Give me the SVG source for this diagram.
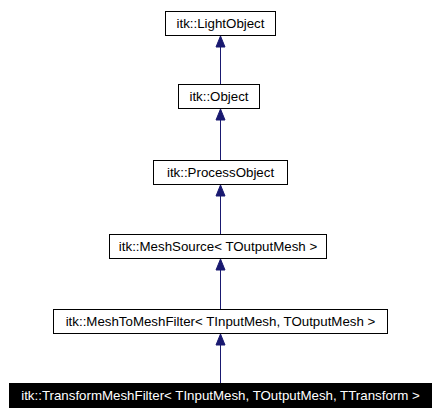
<svg xmlns="http://www.w3.org/2000/svg" width="439" height="415" viewBox="0 0 439 415">
<defs>
<style>
.box{fill:#fff;stroke:#000;stroke-width:1}
.cur{fill:#000;stroke:#000;stroke-width:1}
.lbl{font-family:"Liberation Sans",Arial,sans-serif;font-size:13.3px;text-anchor:middle;fill:#000}
.lblw{font-family:"Liberation Sans",Arial,sans-serif;font-size:13.3px;text-anchor:middle;fill:#fff}
.edge{stroke:#191970;stroke-width:1;fill:none}
.head{fill:#191970;stroke:#191970;stroke-width:1}
</style>
</defs>
<rect width="439" height="415" fill="#fff"/>
<g id="connectors">
<line class="edge" x1="220.5" y1="47" x2="220.5" y2="84"/>
<polygon class="head" points="220.5,36 225,47 216,47"/>
<line class="edge" x1="220.5" y1="120" x2="220.5" y2="160"/>
<polygon class="head" points="220.5,109 225,120 216,120"/>
<line class="edge" x1="220.5" y1="196" x2="220.5" y2="234"/>
<polygon class="head" points="220.5,185 225,196 216,196"/>
<line class="edge" x1="220.5" y1="270" x2="220.5" y2="309"/>
<polygon class="head" points="220.5,259 225,270 216,270"/>
<line class="edge" x1="220.5" y1="345" x2="220.5" y2="383"/>
<polygon class="head" points="220.5,334 225,345 216,345"/>
</g>
<g id="node-lightobject">
<rect class="box" x="165.5" y="11.5" width="110" height="24"/>
<text class="lbl" x="220.5" y="28">itk::LightObject</text>
</g>
<g id="node-object">
<rect class="box" x="178.5" y="84.5" width="81" height="24"/>
<text class="lbl" x="219" y="101">itk::Object</text>
</g>
<g id="node-processobject">
<rect class="box" x="153.5" y="160.5" width="134" height="24"/>
<text class="lbl" x="220.5" y="177">itk::ProcessObject</text>
</g>
<g id="node-meshsource">
<rect class="box" x="109.5" y="234.5" width="217" height="24"/>
<text class="lbl" x="218" y="251">itk::MeshSource&lt; TOutputMesh &gt;</text>
</g>
<g id="node-meshtomeshfilter">
<rect class="box" x="53.5" y="309.5" width="334" height="24"/>
<text class="lbl" x="220.5" y="326">itk::MeshToMeshFilter&lt; TInputMesh, TOutputMesh &gt;</text>
</g>
<g id="node-transformmeshfilter">
<rect class="cur" x="9.5" y="383.5" width="422" height="24"/>
<text class="lblw" x="220.5" y="400">itk::TransformMeshFilter&lt; TInputMesh, TOutputMesh, TTransform &gt;</text>
</g>
</svg>
